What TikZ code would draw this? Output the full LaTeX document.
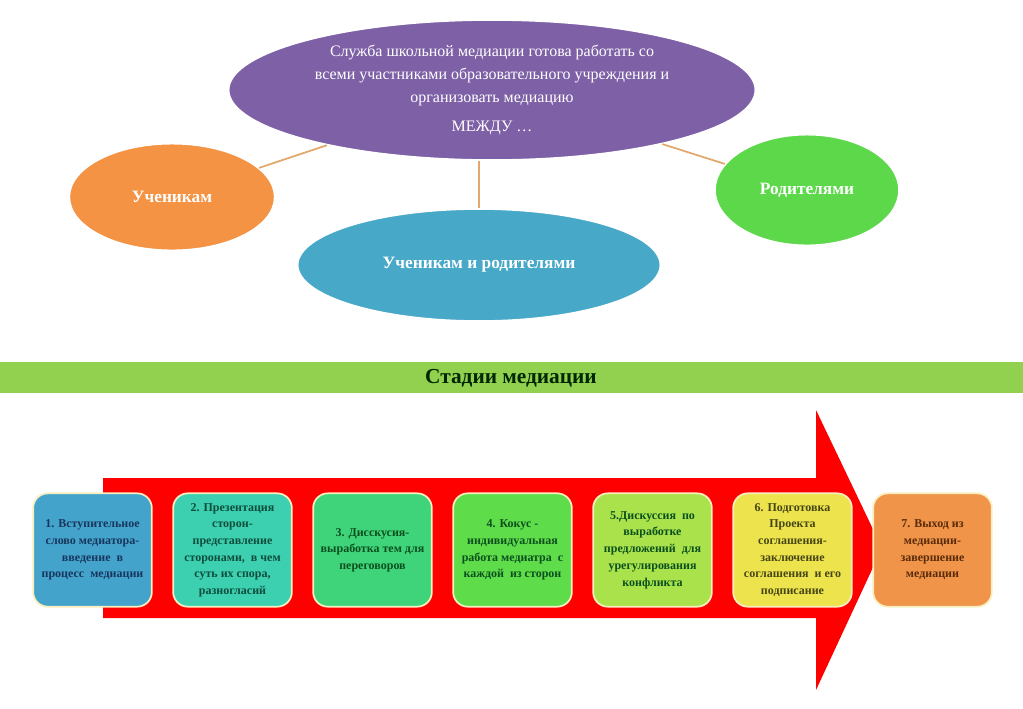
\documentclass[tikz,border=0pt]{standalone}
\usepackage{fontspec}
\setmainfont{Liberation Serif}
\usetikzlibrary{shapes.geometric,positioning}
\definecolor{mpurple}{RGB}{126,96,166}
\definecolor{morange}{RGB}{243,147,67}
\definecolor{mgreen}{RGB}{92,216,74}
\definecolor{mblue}{RGB}{72,168,200}
\definecolor{linetan}{RGB}{226,168,107}
\definecolor{bargreen}{RGB}{146,208,80}
\definecolor{arrowred}{RGB}{255,0,0}
\definecolor{stA}{RGB}{68,163,203}
\definecolor{stB}{RGB}{60,207,176}
\definecolor{stC}{RGB}{63,212,122}
\definecolor{stD}{RGB}{94,220,74}
\definecolor{stE}{RGB}{169,226,74}
\definecolor{stF}{RGB}{237,227,77}
\definecolor{stG}{RGB}{239,148,72}
\definecolor{txA}{RGB}{23,54,93}
\definecolor{txB}{RGB}{14,77,60}
\definecolor{txC}{RGB}{11,79,30}
\definecolor{txF}{RGB}{70,70,20}
\definecolor{txG}{RGB}{90,42,10}
\definecolor{cream}{RGB}{250,238,190}

\tikzset{
  oval/.style={ellipse,draw=white,line width=1.2pt,inner sep=0pt,text=white,align=center},
  stage/.style={rectangle,rounded corners=11pt,draw=cream,line width=1.3pt,
    minimum width=89pt,minimum height=85pt,inner sep=1pt,align=center,
    font=\fontsize{9}{12.5}\selectfont\bfseries},
  link/.style={linetan,line width=1.3pt}
}

\begin{document}
\begin{tikzpicture}[x=0.75pt,y=-0.75pt]
  \useasboundingbox (0,0) rectangle (1023,708);
  \fill[white] (0,0) rectangle (1023,708);

  % top: who mediation works with
  \node[oval,fill=mpurple,minimum width=395pt,minimum height=105pt,
    font=\fontsize{12}{17}\selectfont] (sluzhba) at (492,90)
    {Служба школьной медиации готова работать со\\
     всеми участниками образовательного учреждения и\\
     организовать медиацию\\[5pt]
     МЕЖДУ …};
  \node[oval,fill=morange,minimum width=154pt,minimum height=80pt,
    font=\fontsize{13}{15}\selectfont\bfseries] (uch) at (172,197) {Ученикам};
  \node[oval,fill=mgreen,minimum width=138pt,minimum height=83pt,
    font=\fontsize{13}{15}\selectfont\bfseries] (rod) at (807,190) {Родителями};
  \node[oval,fill=mblue,minimum width=272pt,minimum height=84pt,
    font=\fontsize{13}{15}\selectfont\bfseries] (both) at (479,265) {Ученикам и родителями};

  \draw[link] (uch) -- (sluzhba);
  \draw[link] (rod) -- (sluzhba);
  \draw[link] (both.north) -- (both.north |- sluzhba.south);

  % stages bar
  \fill[bargreen] (0,362) rectangle (1023,393);
  \node[font=\fontsize{16}{18}\selectfont\bfseries,text=black!85!green] (stadii) at (511,378) {Стадии медиации};

  % red arrow
  \fill[arrowred] (103,478) -- (816,478) -- (816,410) -- (882,548)
    -- (816,690) -- (816,618) -- (103,618) -- cycle;

  \foreach \i/\fc/\tc/\txt in {
    1/stA/txA/{1. Вступительное\\слово медиатора-\\введение~~в\\процесс~~медиации},
    2/stB/txB/{2. Презентация\\сторон-\\представление\\сторонами,~~в чем\\суть их спора,\\разногласий},
    3/stC/txC/{3. Дисскусия-\\выработка тем для\\переговоров},
    4/stD/txC/{4. Кокус -\\индивидуальная\\работа медиатра~~с\\каждой~~из сторон},
    5/stE/txC/{5.Дискуссия~~по\\выработке\\предложений~~для\\урегулирования\\конфликта},
    6/stF/txF/{6. Подготовка\\Проекта\\соглашения-\\заключение\\соглашения~~и его\\подписание},
    7/stG/txG/{7. Выход из\\медиации-\\завершение\\медиации}}{
    \node[stage,fill=\fc,text=\tc] (st\i) at ({92.5+140*(\i-1)},550) {\txt};
  }
\end{tikzpicture}
\end{document}
